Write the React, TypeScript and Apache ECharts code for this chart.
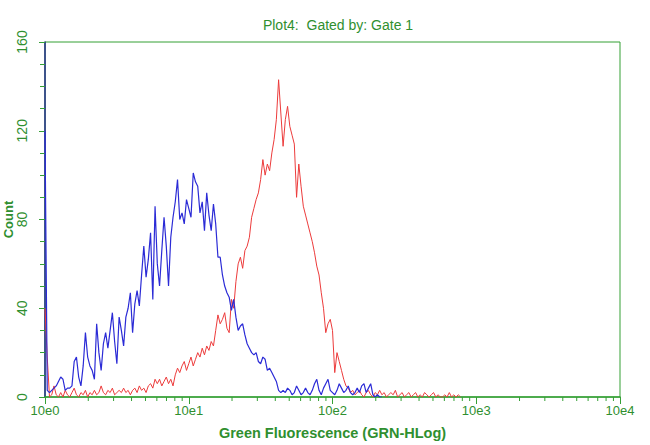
import React, { useEffect, useRef } from "react";
import * as echarts from "echarts";

// Histogram channels: 64 channels per decade, 4 decades (10e0 .. 10e4)
const CHANNELS_PER_DECADE = 64;
const DECADES = 4;
const decadeLabels = ["10e0", "10e1", "10e2", "10e3", "10e4"];
const minorMultipliers = [2, 3, 4, 5, 6, 7, 8, 9];
const yTicks = [0, 40, 80, 120, 160];

const titleText = "Plot4:  Gated by: Gate 1";
const xName = "Green Fluorescence (GRN-HLog)";
const yName = "Count";

// Counts per channel, starting at channel 0
const blueCounts = [
  120, 3, 2, 3, 4, 5, 7, 9, 8, 3,
  4, 4, 5, 16, 18, 9, 5, 14, 29, 18,
  14, 12, 8, 33, 20, 12, 24, 29, 22, 30,
  38, 25, 15, 36, 30, 23, 36, 40, 47, 29,
  42, 48, 41, 55, 68, 54, 62, 74, 44, 86,
  60, 50, 66, 81, 68, 50, 72, 81, 88, 98,
  80, 83, 78, 89, 85, 81, 101, 97, 95, 83,
  88, 75, 92, 82, 75, 87, 78, 63, 63, 55,
  50, 47, 45, 39, 44, 36, 30, 32, 33, 28,
  24, 22, 20, 19, 20, 16, 15, 18, 17, 12,
  13, 11, 9, 7, 3, 2, 3, 2, 4, 3,
  1, 2, 5, 3, 1, 2, 4, 2, 1, 3,
  6, 8, 3, 1, 4, 6, 8, 3, 2, 1,
  3, 6, 4, 2, 3, 5, 2, 1, 2, 4,
  2, 5, 6, 2, 4, 6, 1, 0, 1, 0,
  0,
];

const redCounts = [
  40, 18, 0, 1, 5, 1, 0, 2, 0, 3,
  1, 0, 2, 4, 1, 0, 2, 1, 3, 0,
  2, 1, 3, 1, 2, 5, 2, 1, 3, 2,
  4, 1, 2, 3, 2, 4, 2, 3, 1, 3,
  4, 2, 5, 3, 4, 2, 5, 6, 4, 8,
  6, 8, 5, 7, 9, 6, 8, 5, 10, 13,
  11, 14, 16, 12, 15, 18, 14, 17, 20, 18,
  22, 19, 23, 21, 25, 23, 30, 37, 33, 35,
  38, 31, 29, 44, 40, 52, 60, 63, 58, 66,
  68, 72, 81, 85, 89, 92, 98, 107, 100, 105,
  102, 110, 116, 125, 143, 128, 113, 125, 131, 122,
  118, 114, 90, 105, 95, 86, 82, 78, 74, 70,
  65, 59, 55, 47, 40, 29, 33, 35, 30, 11,
  20, 16, 12, 8, 5, 4, 2, 3, 1, 2,
  3, 1, 0, 2, 3, 1, 0, 2, 1, 3,
  1, 2, 0, 1, 2, 1, 3, 0, 1, 2,
  0, 1, 2, 0, 1, 2, 0, 1, 0, 2,
  1, 0, 1, 2, 0, 1, 0, 0, 1, 0,
  2, 0, 1, 0, 1, 0,
];

const GREEN_LINE = "#35a035";
const GREEN_TEXT = "#2f8f2f";
const BLUE = "#2b2bd6";
const RED = "#ec3b3b";
const NAVY = "#1f2a86";
const FONT = "'Liberation Sans', Arial, sans-serif";

export default function App() {
  const ref = useRef<HTMLDivElement>(null);

  useEffect(() => {
    if (!ref.current) return;
    const chart = echarts.init(ref.current, null, { renderer: "svg" });

    const xMax = CHANNELS_PER_DECADE * DECADES;
    const minorTickData: number[][] = [];
    for (let d = 0; d < DECADES; d++) {
      minorMultipliers.forEach((m) => {
        minorTickData.push([CHANNELS_PER_DECADE * (d + Math.log10(m)), 0]);
      });
    }

    chart.setOption({
      animation: false,
      title: {
        text: titleText,
        left: 333,
        top: 13,
        textAlign: "center",
        textStyle: {
          color: GREEN_TEXT,
          fontSize: 14,
          fontWeight: "normal",
          fontFamily: FONT,
        },
      },
      grid: {
        left: 45,
        right: 30,
        top: 42,
        bottom: 48,
        containLabel: false,
        outerBoundsMode: "none",
        show: true,
        borderColor: GREEN_LINE,
        borderWidth: 1,
        backgroundColor: "transparent",
      },
      xAxis: {
        type: "value",
        min: 0,
        max: xMax,
        interval: CHANNELS_PER_DECADE,
        name: xName,
        nameLocation: "middle",
        nameGap: 28,
        nameMoveOverlap: false,
        nameTextStyle: {
          color: GREEN_TEXT,
          fontSize: 14.5,
          fontWeight: "bold",
          fontFamily: FONT,
        },
        axisLine: { show: true, lineStyle: { color: GREEN_LINE, width: 1.5 } },
        axisTick: { show: true, length: 7, lineStyle: { color: GREEN_LINE } },
        splitLine: { show: false },
        axisLabel: {
          color: GREEN_TEXT,
          fontSize: 13,
          fontFamily: FONT,
          margin: 7,
          formatter: (v: number) =>
            decadeLabels[Math.round(v / CHANNELS_PER_DECADE)] ?? "",
        },
      },
      yAxis: {
        type: "value",
        min: 0,
        max: 160,
        interval: 40,
        name: yName,
        nameLocation: "middle",
        nameGap: 30,
        nameMoveOverlap: false,
        nameRotate: 90,
        nameTextStyle: {
          color: GREEN_TEXT,
          fontSize: 13,
          fontWeight: "bold",
          fontFamily: FONT,
        },
        axisLine: { show: true, lineStyle: { color: NAVY, width: 1.5 } },
        axisTick: { show: true, length: 6, lineStyle: { color: GREEN_LINE } },
        minorTick: {
          show: true,
          splitNumber: 4,
          length: 5,
          lineStyle: { color: GREEN_LINE },
        },
        splitLine: { show: false },
        axisLabel: {
          color: GREEN_TEXT,
          fontSize: 14,
          fontFamily: FONT,
          rotate: 90,
          margin: 16,
          formatter: (v: number) => (yTicks.includes(v) ? String(v) : ""),
        },
      },
      series: [
        {
          type: "line",
          data: redCounts.map((v, i) => [i, v]),
          showSymbol: false,
          lineStyle: { color: RED, width: 1 },
          itemStyle: { color: RED },
          silent: true,
          z: 2,
        },
        {
          type: "line",
          data: blueCounts.map((v, i) => [i, v]),
          showSymbol: false,
          lineStyle: { color: BLUE, width: 1.2 },
          itemStyle: { color: BLUE },
          silent: true,
          z: 3,
        },
        {
          type: "custom",
          data: minorTickData,
          clip: false,
          silent: true,
          z: 4,
          renderItem: (_params: any, api: any) => {
            const p = api.coord([api.value(0), 0]);
            return {
              type: "line",
              shape: { x1: p[0], y1: p[1], x2: p[0], y2: p[1] + 4 },
              style: { stroke: GREEN_LINE, lineWidth: 1 },
            };
          },
        },
      ],
    });

    return () => chart.dispose();
  }, []);

  return (
    <div
      ref={ref}
      style={{
        position: "fixed",
        left: 0,
        top: 0,
        width: 650,
        height: 445,
        background: "#fff",
      }}
    />
  );
}
